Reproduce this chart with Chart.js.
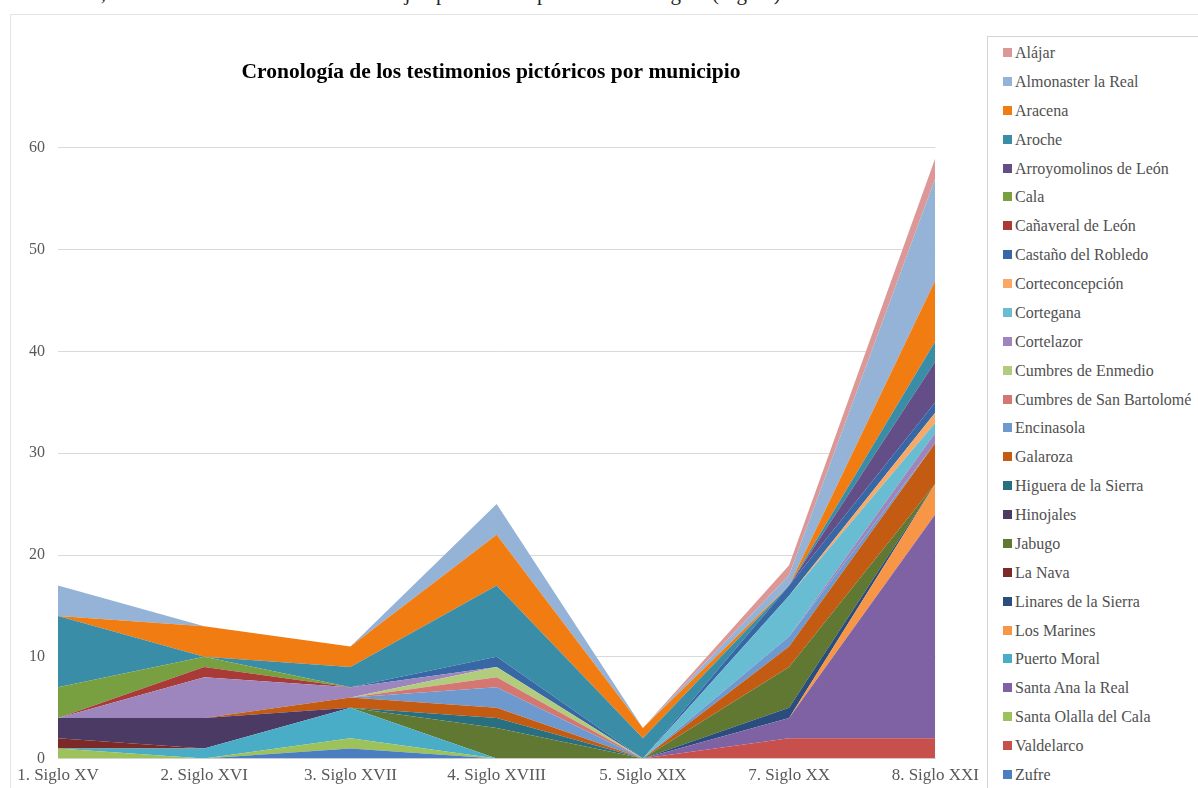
<!DOCTYPE html>
<html lang="es">
<head>
<meta charset="utf-8">
<title>Cronología de los testimonios pictóricos por municipio</title>
<script src="https://cdn.jsdelivr.net/npm/chart.js@4/dist/chart.umd.min.js"></script>
<style>
    html, body { margin: 0; padding: 0; background: #fff; }
    body { width: 1198px; height: 788px; position: relative; overflow: hidden; font-family: "Liberation Serif", "Times New Roman", serif; }
    #texto { position: absolute; left: 18px; top: -19px; font-size: 21px; color: #222; white-space: nowrap; }
    #marco { position: absolute; left: 10px; top: 14px; width: 1200px; height: 800px; border: 1px solid #e4e4e4; box-sizing: border-box; }
    #grafico { position: absolute; left: 0; top: 0; }
    #leyenda { position: absolute; left: 987px; top: 36px; width: 220px; height: 760px; border: 1px solid #d4d4d4; box-sizing: border-box; background: #fff; }
    #leyenda div { position: absolute; left: 15px; font-size: 16px; color: #505050; white-space: nowrap; line-height: 18px; }
    #leyenda span { display: inline-block; width: 9px; height: 9px; margin-right: 3px; vertical-align: 1px; }
</style>
</head>
<body>
<div id="texto">conómico, tras el cual se ha seleccionado un ejemplo de cada periodo cronológico (Figura).</div>
<div id="marco"></div>
<canvas id="grafico" width="986" height="796"></canvas>
<div id="leyenda"></div>
<script>
// Categorías (eje X)
const siglos = ['1. Siglo XV', '2. Siglo XVI', '3. Siglo XVII', '4. Siglo XVIII', '5. Siglo XIX', '7. Siglo XX', '8. Siglo XXI'];
const ticksY = [0, 10, 20, 30, 40, 50, 60];

// Número de testimonios por municipio y siglo
const alajar          = [0, 0, 0, 0, 0, 1, 2];
const almonaster      = [3, 0, 0, 3, 0, 1, 10];
const aracena         = [0, 3, 2, 5, 1, 0, 6];
const aroche          = [7, 0, 2, 7, 2, 0, 2];
const arroyomolinos   = [0, 0, 0, 0, 0, 0, 4];
const cala            = [3, 1, 0, 0, 0, 0, 0];
const canaveral       = [0, 1, 0, 0, 0, 0, 0];
const castano         = [0, 0, 0, 1, 0, 1, 1];
const corteconcepcion = [0, 0, 0, 0, 0, 0, 1];
const cortegana       = [0, 0, 0, 0, 0, 4, 1];
const cortelazor      = [0, 4, 1, 0, 0, 0, 1];
const cumbresEnmedio  = [0, 0, 0, 1, 0, 0, 0];
const cumbresSanBart  = [0, 0, 0, 1, 0, 0, 0];
const encinasola      = [0, 0, 0, 2, 0, 1, 0];
const galaroza        = [0, 0, 1, 1, 0, 2, 4];
const higuera         = [0, 0, 0, 1, 0, 0, 0];
const hinojales       = [2, 3, 0, 0, 0, 0, 0];
const jabugo          = [0, 0, 0, 3, 0, 4, 0];
const laNava          = [1, 0, 0, 0, 0, 0, 0];
const linares         = [0, 0, 0, 0, 0, 1, 0];
const losMarines      = [0, 0, 0, 0, 0, 0, 3];
const puertoMoral     = [0, 1, 3, 0, 0, 0, 0];
const santaAna        = [0, 0, 0, 0, 0, 2, 22];
const santaOlalla     = [1, 0, 1, 0, 0, 0, 0];
const valdelarco      = [0, 0, 0, 0, 0, 2, 2];
const zufre           = [0, 0, 1, 0, 0, 0, 0];

// Orden de apilado: de abajo (Zufre) a arriba (Alájar)
const series = [
    ['Zufre', zufre, '#4a7ec0'],
    ['Valdelarco', valdelarco, '#c8504c'],
    ['Santa Olalla del Cala', santaOlalla, '#9dc15b'],
    ['Santa Ana la Real', santaAna, '#7e62a3'],
    ['Puerto Moral', puertoMoral, '#4aadc8'],
    ['Los Marines', losMarines, '#f79646'],
    ['Linares de la Sierra', linares, '#2a4d7e'],
    ['La Nava', laNava, '#7c2a28'],
    ['Jabugo', jabugo, '#617832'],
    ['Hinojales', hinojales, '#4b3a63'],
    ['Higuera de la Sierra', higuera, '#2a6f80'],
    ['Galaroza', galaroza, '#c45b12'],
    ['Encinasola', encinasola, '#6e99cf'],
    ['Cumbres de San Bartolomé', cumbresSanBart, '#d47672'],
    ['Cumbres de Enmedio', cumbresEnmedio, '#b2cc7e'],
    ['Cortelazor', cortelazor, '#9c86bd'],
    ['Cortegana', cortegana, '#69bdd3'],
    ['Corteconcepción', corteconcepcion, '#f9a965'],
    ['Castaño del Robledo', castano, '#3767a5'],
    ['Cañaveral de León', canaveral, '#a83a37'],
    ['Cala', cala, '#78a040'],
    ['Arroyomolinos de León', arroyomolinos, '#634e88'],
    ['Aroche', aroche, '#398da6'],
    ['Aracena', aracena, '#f07c12'],
    ['Almonaster la Real', almonaster, '#95b3d7'],
    ['Alájar', alajar, '#dc9897']
];

const datasets = series.map(([name, values, color], i) => ({
    label: name,
    data: values,
    backgroundColor: color,
    borderColor: color,
    borderWidth: 0,
    pointRadius: 0,
    tension: 0,
    fill: i === 0 ? 'origin' : '-1'
}));

const fuente = '"Liberation Serif", "Times New Roman", serif';

new Chart(document.getElementById('grafico'), {
    type: 'line',
    data: { labels: siglos, datasets: datasets },
    options: {
        responsive: false,
        animation: false,
        layout: { padding: { left: 28, right: 32, top: 0, bottom: 3 } },
        plugins: {
            legend: { display: false },
            tooltip: { enabled: false },
            title: {
                display: true,
                text: 'Cronología de los testimonios pictóricos por municipio',
                color: '#000',
                font: { family: fuente, size: 21.5, weight: 'bold' },
                padding: { top: 60, bottom: 62 }
            }
        },
        scales: {
            x: {
                offset: false,
                grid: { display: false, drawTicks: false },
                border: { display: true, color: '#d9d9d9' },
                ticks: { color: '#595959', font: { family: fuente, size: 17 }, padding: 7, maxRotation: 0, autoSkip: false }
            },
            y: {
                stacked: true,
                min: 0,
                max: 60,
                afterBuildTicks: axis => { axis.ticks = ticksY.map(v => ({ value: v })); },
                afterFit: axis => { axis.width = 30; },
                grid: { color: '#d9d9d9', drawTicks: false },
                border: { display: false },
                ticks: { color: '#595959', font: { family: fuente, size: 16 }, padding: 13 }
            }
        }
    }
});

// Leyenda (mismo orden que Excel: de arriba a abajo)
const leyenda = document.getElementById('leyenda');
series.slice().reverse().forEach(([name, , color], i) => {
    const item = document.createElement('div');
    item.style.top = (7 + i * 28.88) + 'px';
    item.innerHTML = `<span style="background:${color}"></span>${name}`;
    leyenda.appendChild(item);
});
</script>
</body>
</html>
